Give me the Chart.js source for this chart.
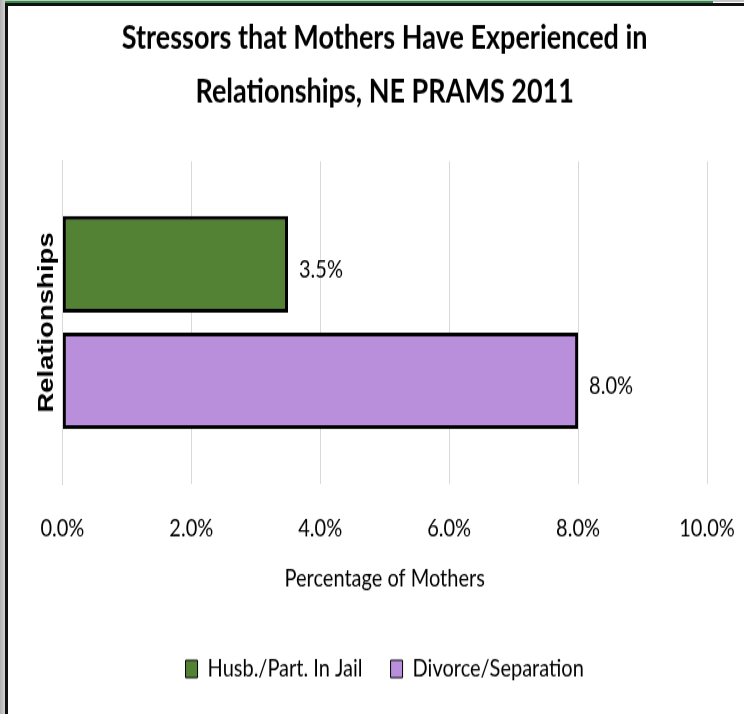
<!DOCTYPE html>
<html>
<head>
<meta charset="utf-8">
<script src="https://cdn.jsdelivr.net/npm/chart.js@4.4.1/dist/chart.umd.min.js"></script>
<style>
  html, body { margin: 0; padding: 0; background: #fff; }
  #page { position: relative; width: 744px; height: 714px; overflow: hidden; background: #fff; }
  /* chart is drawn short and stretched tall, like the exported slide */
  #wrap { position: absolute; left: 0; top: 0; width: 744px; height: 571px;
          transform: scaleY(1.2504); transform-origin: 0 0; }
  .edge { position: absolute; }
</style>
</head>
<body>
<div id="page">
  <div id="wrap"><canvas id="stress-chart"></canvas></div>
  <div class="edge" style="left:0;top:0;width:744px;height:2px;background:#c6c6c6"></div>
  <div class="edge" style="left:0;top:1px;width:713px;height:2px;background:#2f8f46"></div>
  <div class="edge" style="left:5px;top:3px;width:739px;height:3px;background:#111"></div>
  <div class="edge" style="left:0;top:0;width:5px;height:714px;background:linear-gradient(to right,#b0b0b0,#d2d2d2)"></div>
  <div class="edge" style="left:5px;top:3px;width:3px;height:711px;background:#111"></div>
</div>
<script>
// stressor data
const categories = ['Relationships'];
const seriesNames = ['Husb./Part. In Jail', 'Divorce/Separation'];
const jailValues = [3.5];
const divorceValues = [8.0];
const xTicks = [0, 2, 4, 6, 8, 10];

const greenFill = '#538235';
const purpleFill = '#b98edb';

// soft drop shadow under the bars, then the % labels to the right
const barExtras = {
  id: 'barExtras',
  beforeDatasetsDraw(chart) {
    const ctx = chart.ctx;
    ctx.save();
    ctx.shadowColor = 'rgba(0,0,0,0.45)';
    ctx.shadowBlur = 6;
    ctx.shadowOffsetX = 2;
    ctx.shadowOffsetY = 3;
  },
  afterDatasetsDraw(chart) {
    const ctx = chart.ctx;
    ctx.restore();
    ctx.save();
    ctx.font = '20px Lato';
    ctx.fillStyle = '#000';
    ctx.textAlign = 'left';
    ctx.textBaseline = 'middle';
    chart.data.datasets.forEach((ds, i) => {
      chart.getDatasetMeta(i).data.forEach((bar, j) => {
        ctx.fillText(ds.data[j].toFixed(1) + '%', bar.x + 11, bar.y + 4);
      });
    });
    ctx.restore();
  }
};

const stressCanvas = document.getElementById('stress-chart');

let stressChart = new Chart(stressCanvas, {
  type: 'bar',
  data: {
    labels: categories,
    datasets: [{
      label: seriesNames[0],
      data: jailValues,
      backgroundColor: greenFill,
      borderColor: '#000',
      borderWidth: 3,
      borderSkipped: false,
      categoryPercentage: 0.721,
      barPercentage: 0.828
    }, {
      label: seriesNames[1],
      data: divorceValues,
      backgroundColor: purpleFill,
      borderColor: '#000',
      borderWidth: 3,
      borderSkipped: false,
      categoryPercentage: 0.721,
      barPercentage: 0.828
    }]
  },
  options: {
    indexAxis: 'y',
    responsive: true,
    maintainAspectRatio: false,
    animation: false,
    layout: {
      padding: { left: 14, right: 37, top: 0, bottom: 16 }
    },
    scales: {
      x: {
        min: 0,
        max: 10,
        afterBuildTicks: axis => { axis.ticks = xTicks.map(v => ({ value: v })); },
        // end labels may hang past the plot, the margins leave room for them
        afterFit: axis => { axis.paddingLeft = 0; axis.paddingRight = 0; },
        grid: { color: '#d9d9d9', lineWidth: 1, drawTicks: false },
        border: { display: false },
        ticks: {
          padding: 24,
          color: '#000',
          font: { family: 'Lato', size: 20 },
          callback: v => v.toFixed(1) + '%'
        },
        title: {
          display: true,
          text: 'Percentage of Mothers',
          color: '#000',
          font: { family: 'Lato', size: 20 },
          padding: { top: -8, bottom: 22 }
        }
      },
      y: {
        grid: { display: false, drawTicks: false },
        border: { display: true, color: '#d9d9d9', width: 1 },
        ticks: { display: false },
        title: {
          display: true,
          text: categories[0],
          color: '#000',
          font: { family: 'Liberation Sans', size: 22, weight: 'bold' },
          padding: { top: 20, bottom: 2 }
        }
      }
    },
    plugins: {
      title: {
        display: true,
        fullSize: false,
        text: ['Stressors that Mothers Have Experienced in', 'Relationships, NE PRAMS 2011'],
        color: '#000',
        font: { family: 'Lato', size: 27, weight: 'bold', lineHeight: 1.59 },
        padding: { top: 9, bottom: 34 }
      },
      legend: {
        position: 'bottom',
        fullSize: false,
        labels: {
          color: '#000',
          boxWidth: 12,
          boxHeight: 14,
          padding: 28,
          font: { family: 'Lato', size: 20 },
          generateLabels: chart => chart.data.datasets.map((ds, i) => ({
            text: ds.label,
            fillStyle: ds.backgroundColor,
            strokeStyle: '#000',
            lineWidth: 1,
            fontColor: '#000',
            datasetIndex: i
          }))
        }
      },
      tooltip: { enabled: false }
    }
  },
  plugins: [barExtras]
});
</script>
</body>
</html>
